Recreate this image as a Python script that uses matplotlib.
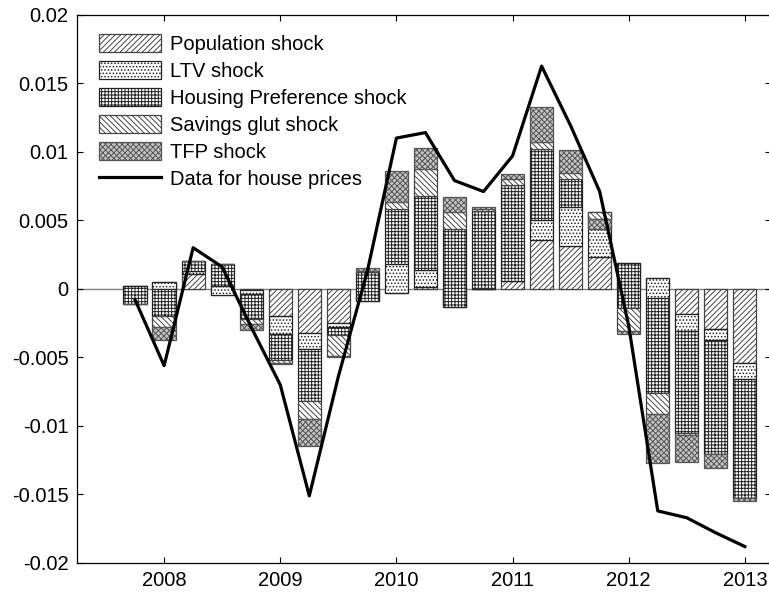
import matplotlib
matplotlib.use('Agg')
import matplotlib.pyplot as plt
import numpy as np

plt.rcParams['font.family'] = ['Liberation Sans', 'DejaVu Sans']
plt.rcParams['hatch.linewidth'] = 0.7

# quarter positions (2007Q4 .. 2013Q1) in fractional years
dates = [2007.75, 2008.00, 2008.25, 2008.50, 2008.75, 2009.00, 2009.25, 2009.50,
         2009.75, 2010.00, 2010.25, 2010.50, 2010.75, 2011.00, 2011.25, 2011.50,
         2011.75, 2012.00, 2012.25, 2012.50, 2012.75, 2013.00]

population = [0.0002, 0.0005, 0.0011, -0.00045, -0.0001, -0.0020, -0.0032, -0.0025,
              -0.0005, -0.0003, 0.0001, -0.0007, 0.0000, 0.0006, 0.0036, 0.0031,
              0.0023, 0.0012, 0.0008, -0.0018, -0.0029, -0.0054]
ltv = [0.0, -0.0005, 0.0002, 0.00065, -0.0003, -0.0013, -0.0012, -0.0003,
       -0.0004, 0.0021, 0.0013, -0.0006, 0.0, 0.0, 0.0014, 0.0029,
       0.0021, 0.0007, -0.0015, -0.00125, -0.00085, -0.00115]
housing_pref = [-0.0013, -0.0020, 0.0007, 0.0016, -0.0018, -0.0019, -0.0038, -0.0006,
                0.0021, 0.0040, 0.00535, 0.0057, 0.0057, 0.0070, 0.0052, 0.0020,
                0.0012, -0.0033, -0.0069, -0.0075, -0.0083, -0.0087]
savings_glut = [0.0, -0.0008, 0.0, 0.0, -0.0004, -0.0002, -0.0013, -0.0015,
                0.0001, 0.0005, 0.0020, 0.0012, 0.0001, 0.0004, 0.0005, 0.00045,
                -0.0005, -0.0017, -0.0015, -0.0001, 0.0, 0.0]
tfp = [0.0, -0.0009, 0.0, 0.0, -0.0004, -0.0001, -0.0020, -0.0001,
       0.0002, 0.0023, 0.00155, 0.0011, 0.0002, 0.0004, 0.00255, 0.0017,
       -0.0007, -0.0002, -0.0036, -0.0020, -0.0010, -0.00025]
house_prices = [-0.0008, -0.0056, 0.0030, 0.0016, -0.0028, -0.0070, -0.0151, -0.0064,
                0.0013, 0.0110, 0.0114, 0.0079, 0.0071, 0.0097, 0.01625, 0.0119,
                0.0071, -0.0027, -0.0162, -0.0167, -0.0178, -0.0188]

labels = ['Population shock', 'LTV shock', 'Housing Preference shock',
          'Savings glut shock', 'TFP shock']
year_ticks = [2008, 2009, 2010, 2011, 2012, 2013]
y_ticks = [-0.02, -0.015, -0.01, -0.005, 0, 0.005, 0.01, 0.015, 0.02]
y_ticklabels = ['-0.02', '-0.015', '-0.01', '-0.005', '0', '0.005', '0.01', '0.015', '0.02']

styles = [dict(facecolor='white', hatch='//////', edgecolor='#444444'),
          dict(facecolor='white', hatch='.....', edgecolor='#222222'),
          dict(facecolor='white', hatch='+++++', edgecolor='#222222'),
          dict(facecolor='white', hatch='\\\\\\\\\\\\', edgecolor='#444444'),
          dict(facecolor='#c4c4c4', hatch='xxxxxx', edgecolor='#555555')]

fig = plt.figure(figsize=(7.69, 5.93), dpi=100)
W, H = 769, 593
ax = fig.add_axes([77 / W, (H - 563) / H, (771 - 77) / W, (563 - 14.7) / H])

series = [population, ltv, housing_pref, savings_glut, tfp]
bottom = np.zeros(len(dates))
handles = []
for k, (vals, st) in enumerate(zip(series, styles)):
    v = np.array(vals)
    b = ax.bar(dates, v, width=0.2, bottom=bottom, linewidth=0.9,
               zorder=2 + k, label=labels[k], **st)
    handles.append(b)
    bottom = bottom + v

ax.axhline(0, color='#808080', linewidth=1.0, zorder=1.5)
line, = ax.plot(dates, house_prices, color='black', linewidth=2.3, zorder=10,
                label='Data for house prices')
handles.append(line)

ax.set_xlim(2007.25, 2013.225)
ax.set_ylim(-0.02, 0.02)
ax.set_xticks(year_ticks)
ax.set_xticklabels([str(y) for y in year_ticks])
ax.set_yticks(y_ticks)
ax.set_yticklabels(y_ticklabels)
ax.tick_params(direction='in', top=True, right=True, length=4, width=0.8,
               labelsize=14.5, pad=6)
for sp in ax.spines.values():
    sp.set_linewidth(0.9)

leg = ax.legend(handles=handles, loc='upper left',
                bbox_to_anchor=(99 / W, 1 - 33.5 / H), bbox_transform=fig.transFigure,
                frameon=False, fontsize=14.5, handlelength=3.1, handleheight=1.05,
                labelspacing=0.34, handletextpad=0.42, borderpad=0, borderaxespad=0)

fig.savefig('out.png', dpi=100)
